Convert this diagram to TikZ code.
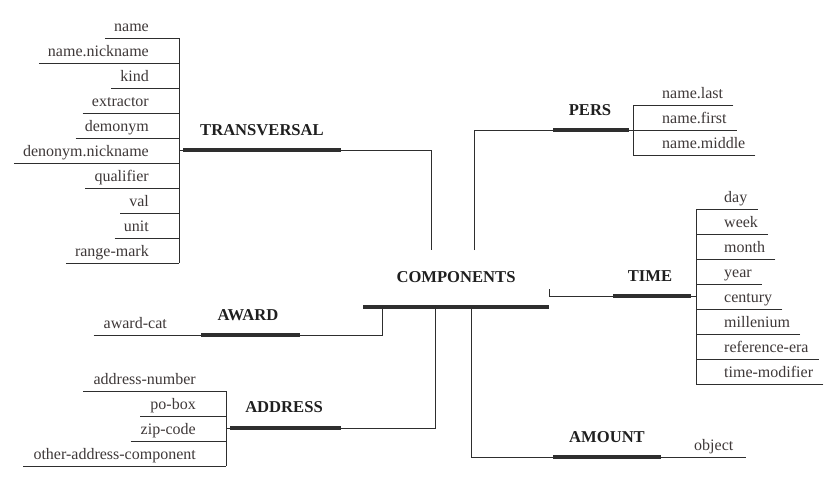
\documentclass[tikz,border=0pt]{standalone}
\usepackage{fontspec}
\setmainfont{Liberation Serif}
\definecolor{inkgray}{HTML}{2E2E2E}
\definecolor{leafgray}{HTML}{3E3838}
\begin{document}
\begin{tikzpicture}[x=1pt,y=-1pt,
	link/.style={draw=inkgray, line width=1pt},
	bar/.style={draw=inkgray, line width=4pt},
	topic/.style={font=\fontsize{16.6}{18}\selectfont\bfseries, text=black!88, inner sep=0pt},
	leaf/.style={font=\fontsize{16}{18}\selectfont, text=leafgray, inner sep=0pt}]
	\useasboundingbox (0,0) rectangle (838,482);
	% centre
	\node [topic] (comp) at (456,277) {COMPONENTS};
	\coordinate (comp-l) at (363,307);
	\coordinate (comp-r) at (549,307);
	\draw [bar] (comp-l) -- (comp-r);
	% transversal
	\node [topic] (trans) at (262,130) {TRANSVERSAL};
	\coordinate (trans-l) at (183,150);
	\coordinate (trans-r) at (341,150);
	\coordinate (trans-top) at (179,38);
	\coordinate (trans-bot) at (179,263);
	\coordinate (trans-end) at (431,250);
	\draw [bar] (trans-l) -- (trans-r);
	\draw [link] (trans-top) -- (trans-bot);
	\draw [link] (trans-l) -- (trans-l -| trans-top);
	\draw [link] (trans-r) -| (trans-end);
	\foreach \t [count=\i from 0] in {name,name.nickname,kind,extractor,demonym,denonym.nickname,qualifier,val,unit,range-mark}
	{
		\node [leaf, anchor=base east] (tv-\i) at (149,31+25*\i) {\t};
		\draw [link] (tv-\i.base west) ++(-9,7) coordinate (u) -- (u -| trans-top);
	}
	% pers
	\node [topic] (pers) at (590,110) {PERS};
	\coordinate (pers-l) at (553,130);
	\coordinate (pers-r) at (629,130);
	\coordinate (pers-top) at (633,105);
	\coordinate (pers-bot) at (633,155);
	\coordinate (pers-end) at (474,250);
	\draw [bar] (pers-l) -- (pers-r);
	\draw [link] (pers-top) -- (pers-bot);
	\draw [link] (pers-r) -- (pers-r -| pers-top);
	\draw [link] (pers-end) |- (pers-l);
	\foreach \t [count=\i from 0] in {name.last,name.first,name.middle}
	{
		\node [leaf, anchor=base west] (ps-\i) at (662,98+25*\i) {\t};
		\draw [link] (ps-\i.base east) ++(10,7) coordinate (u) -- (u -| pers-top);
	}
	% time
	\node [topic] (time) at (650,276) {TIME};
	\coordinate (time-l) at (613,296);
	\coordinate (time-r) at (691,296);
	\coordinate (time-top) at (696,209);
	\coordinate (time-bot) at (696,384);
	\coordinate (time-end) at (549,289);
	\draw [bar] (time-l) -- (time-r);
	\draw [link] (time-top) -- (time-bot);
	\draw [link] (time-r) -- (time-r -| time-top);
	\draw [link] (time-end) |- (time-l);
	\foreach \t [count=\i from 0] in {day,week,month,year,century,millenium,reference-era,time-modifier}
	{
		\node [leaf, anchor=base west] (tm-\i) at (724,202+25*\i) {\t};
		\draw [link] (tm-\i.base east) ++(10,7) coordinate (u) -- (u -| time-top);
	}
	% award
	\node [topic] (award) at (248,315) {AWARD};
	\coordinate (award-l) at (201,335);
	\coordinate (award-r) at (300,335);
	\coordinate (award-end) at (382,307);
	\draw [bar] (award-l) -- (award-r);
	\draw [link] (award-r) -| (award-end);
	\node [leaf, anchor=base east] (awcat) at (167,328) {award-cat};
	\draw [link] (awcat.base west) ++(-10,7) coordinate (u) -- (u -| award-l);
	% address
	\node [topic] (addr) at (284,407) {ADDRESS};
	\coordinate (addr-l) at (230,428);
	\coordinate (addr-r) at (341,428);
	\coordinate (addr-top) at (226,391);
	\coordinate (addr-bot) at (226,466);
	\coordinate (addr-end) at (435,307);
	\draw [bar] (addr-l) -- (addr-r);
	\draw [link] (addr-top) -- (addr-bot);
	\draw [link] (addr-l) -- (addr-l -| addr-top);
	\draw [link] (addr-end) |- (addr-r);
	\foreach \t [count=\i from 0] in {address-number,po-box,zip-code,other-address-component}
	{
		\node [leaf, anchor=base east] (ad-\i) at (196,384+25*\i) {\t};
		\draw [link] (ad-\i.base west) ++(-10,7) coordinate (u) -- (u -| addr-top);
	}
	% amount
	\node [topic] (amount) at (607,437) {AMOUNT};
	\coordinate (amount-l) at (553,457);
	\coordinate (amount-r) at (661,457);
	\coordinate (amount-end) at (471,307);
	\draw [bar] (amount-l) -- (amount-r);
	\draw [link] (amount-end) |- (amount-l);
	\node [leaf, anchor=base west] (obj) at (694,450) {object};
	\path (obj.base east) ++(12,7) coordinate (obj-u);
	\draw [link] (amount-r) -- (obj-u);
\end{tikzpicture}
\end{document}
